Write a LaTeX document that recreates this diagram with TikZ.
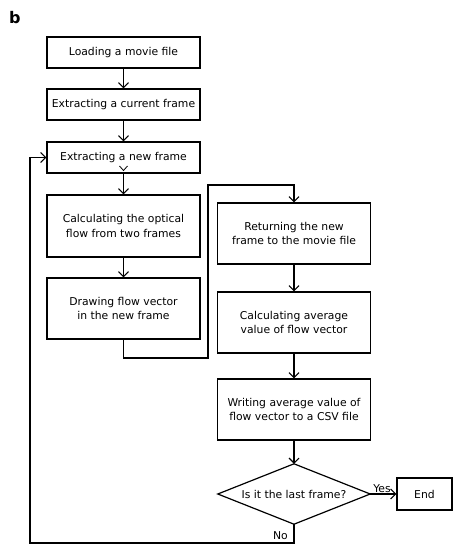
\documentclass[tikz,border=0pt]{standalone}
\usepackage{fontspec}
\setmainfont{DejaVu Sans}
\usetikzlibrary{arrows.meta}
\begin{document}
\begin{tikzpicture}[x=1pt,y=-1pt,
  box/.style={draw, line width=1.2pt, minimum width=153pt, inner sep=0pt, align=center,
    font=\fontsize{10.8}{14.5}\selectfont},
  arr/.style={line width=1.2pt, -{Straight Barb[length=5pt,width=10pt,line width=1.1pt]}},
  ln/.style={line width=1.2pt},
  lbl/.style={font=\fontsize{10.8}{13}\selectfont, inner sep=1pt}]
\useasboundingbox (0,0) rectangle (454,546);
\node[font=\fontsize{16}{16}\selectfont\bfseries, anchor=north west, inner sep=0pt] (b) at (9,11) {b};
\node[box, minimum height=31pt] (n1) at (123.5,52.5) {Loading a movie file};
\node[box, minimum height=31pt] (n2) at (123.5,104.5) {Extracting a current frame};
\node[box, minimum height=31pt] (n3) at (123.5,157.5) {Extracting a new frame};
\node[box, minimum height=62pt] (n4) at (123.5,226) {Calculating the optical\\flow from two frames};
\node[box, minimum height=61pt] (n5) at (123.5,308.5) {Drawing flow vector\\in the new frame};
\node[box, minimum height=61pt] (n6) at (294,233.5) {Returning the new\\frame to the movie file};
\node[box, minimum height=61pt] (n7) at (294,322.5) {Calculating average\\value of flow vector};
\node[box, minimum height=61pt] (n8) at (294,409.5) {Writing average value of\\flow vector to a CSV file};
\node[minimum width=152pt, minimum height=60pt, inner sep=0pt, font=\fontsize{10.8}{13}\selectfont] (d) at (294,494) {Is it the last frame?};
\draw[ln] (d.north) -- (d.east) -- (d.south) -- (d.west) -- cycle;
\node[box, minimum width=55pt, minimum height=32pt] (e) at (424.5,494) {End};
\draw[arr] (n1) -- (n2);
\draw[arr] (n2) -- (n3);
\draw[arr] (n3) -- (n4);
\draw[arr] (n4) -- (n5);
\coordinate (c1) at (123.5,358);
\coordinate (c2) at (208,358);
\coordinate (c3) at (208,185);
\coordinate (c4) at (294,185);
\draw[arr] (n5.south) -- (c1) -- (c2) -- (c3) -- (c4) -- (n6.north);
\draw[arr] (n6) -- (n7);
\draw[arr] (n7) -- (n8);
\draw[arr] (n8) -- (d.north);
\draw[arr] (d.east) -- node[lbl, above, pos=0.45] {Yes} (e.west);
\coordinate (c5) at (294,543);
\coordinate (c6) at (30,543);
\coordinate (c7) at (30,157.5);
\draw[arr] (d.south) -- (c5) -- (c6) -- (c7) -- (n3.west);
\node[lbl, anchor=south east] (no) at (289,541) {No};
\draw[line width=0.8pt] (119.5,166) -- (123.5,170.5) -- (127.5,166);
\end{tikzpicture}
\end{document}
